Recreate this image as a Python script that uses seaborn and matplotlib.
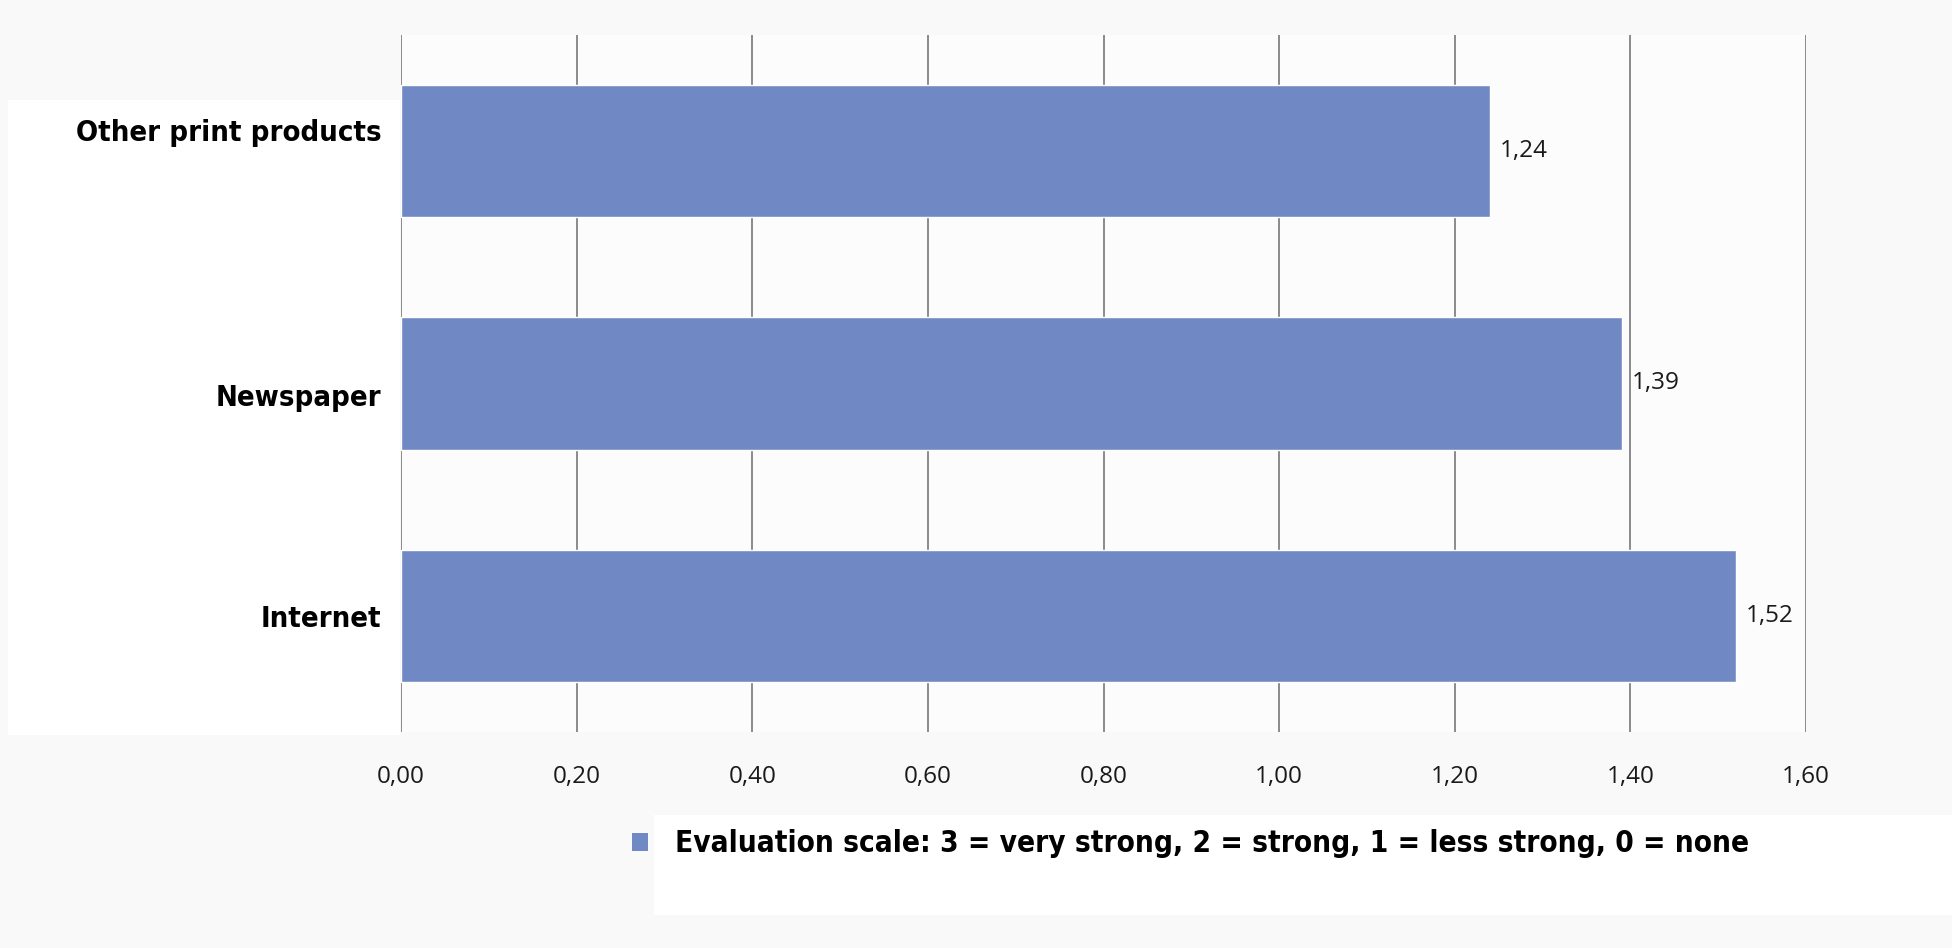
import matplotlib
matplotlib.use("Agg")
import matplotlib.pyplot as plt
import matplotlib.transforms as mtransforms
from matplotlib.patches import Patch, Rectangle
import seaborn as sns
import pandas as pd

categories = ["Other print products", "Newspaper", "Internet"]
values = [1.24, 1.39, 1.52]
x_ticks = [0.0, 0.2, 0.4, 0.6, 0.8, 1.0, 1.2, 1.4, 1.6]
legend_label = "Evaluation scale: 3 = very strong, 2 = strong, 1 = less strong, 0 = none"

bar_color = "#7089c4"
bg = "#f9f9f9"

sns.set_theme(style="white")
plt.rcParams["font.family"] = ["DejaVu Sans"]

df = pd.DataFrame({"category": categories, "value": values})

W, H = 1952, 948
fig = plt.figure(figsize=(W / 100, H / 100), dpi=100, facecolor=bg)

# white panels behind the category labels and the legend
fig.patches.append(Rectangle((8 / W, 1 - 735 / H), (400 - 8) / W, (735 - 100) / H,
                             transform=fig.transFigure, facecolor="white",
                             edgecolor="none", zorder=-5))
fig.patches.append(Rectangle((654 / W, 1 - 915 / H), (W - 654) / W, (915 - 815) / H,
                             transform=fig.transFigure, facecolor="white",
                             edgecolor="none", zorder=-5))

ax = fig.add_axes([401 / W, 1 - 732 / H, (1806 - 401) / W, (732 - 35) / H])
ax.set_facecolor("#fcfcfc")

sns.barplot(data=df, x="value", y="category", order=categories, color=bar_color,
            saturation=1, width=0.57, orient="h", ax=ax, zorder=3)

ax.set_xlim(0, 1.6)
ax.set_ylim(2.5, -0.5)
ax.set_xticks(x_ticks)
ax.set_xticklabels([f"{t:.2f}".replace(".", ",") for t in x_ticks],
                   fontsize=17.5, family="Open Sans", color="#1a1a1a")
ax.tick_params(axis="x", length=0, pad=24)
ax.tick_params(axis="y", length=0, pad=14)

# category labels: condensed bold, with small vertical nudges
label_shift = [21, -12, 0]
for lbl, dy in zip(ax.get_yticklabels(), label_shift):
    lbl.set_fontsize(21)
    lbl.set_fontweight("bold")
    lbl.set_fontstretch("condensed")
    lbl.set_color("black")
    lbl.set_transform(lbl.get_transform() +
                      mtransforms.ScaledTranslation(0, dy / 100, fig.dpi_scale_trans))
ax.set_xlabel("")
ax.set_ylabel("")
ax.grid(axis="x", color="#8a8a8a", linewidth=1.4, zorder=0)
ax.grid(axis="y", visible=False)
for s in ax.spines.values():
    s.set_visible(False)

ax.bar_label(ax.containers[0], labels=[f"{v:.2f}".replace(".", ",") for v in values],
             padding=7, fontsize=17.5, family="Open Sans", color="#1a1a1a")

leg = fig.legend(handles=[Patch(facecolor=bar_color, edgecolor="none", label=legend_label)],
                 loc="center left", bbox_to_anchor=(605 / W, 1 - 844 / H), frameon=False,
                 handlelength=0.55, handleheight=0.55, handletextpad=0.9,
                 prop={"size": 21.3, "weight": "bold", "stretch": "condensed"})
for t in leg.get_texts():
    t.set_color("black")

fig.savefig("out.png", dpi=100, facecolor=bg)
